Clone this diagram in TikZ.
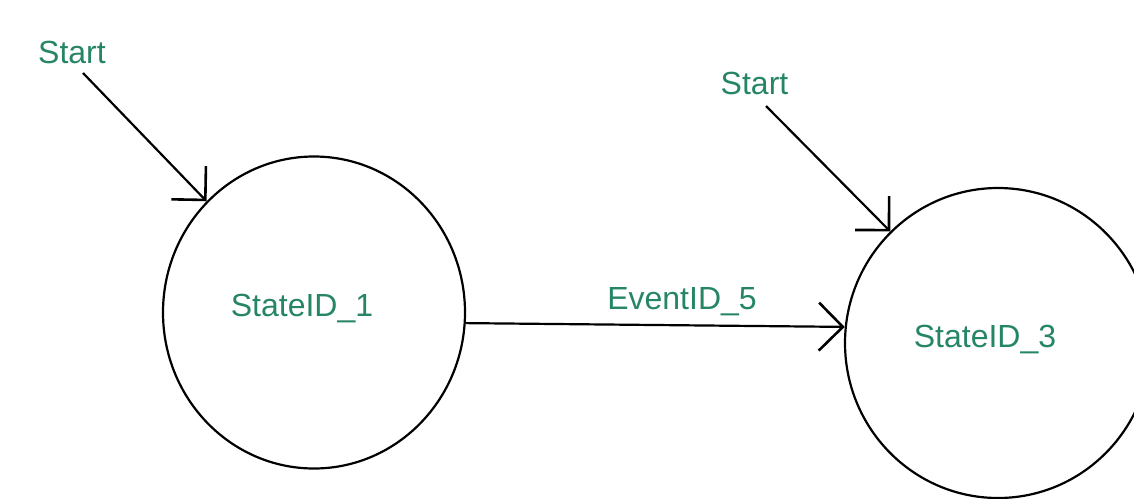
\documentclass[tikz,border=0pt]{standalone}
\usepackage{fontspec}
\setmainfont{Liberation Sans}
\usetikzlibrary{shapes.geometric,arrows.meta}
\definecolor{lblgreen}{RGB}{38,134,100}
\tikzset{
  statenode/.style={draw=black, line width=2.2pt, ellipse, inner sep=0pt},
  lbl/.style={text=lblgreen, font=\fontsize{32}{38}\selectfont, inner sep=0pt, anchor=base},
  conn/.style={draw=black, line width=2.2pt, -{Straight Barb[length=24pt, width=48pt, line width=2.6pt]}}
}
\begin{document}
\begin{tikzpicture}[x=1pt, y=-1pt]
\useasboundingbox (0,0) rectangle (1134,498);
\clip (0,0) rectangle (1134,498);
\node[statenode, minimum width=302pt, minimum height=312pt] (s1) at (314,312.5) {};
\node[statenode, minimum width=306pt, minimum height=310pt] (s2) at (998,343) {};
\node[lbl] (t1) at (302,316) {StateID\_1};
\node[lbl] (t3) at (985,347) {StateID\_3};
\node[lbl] (st1) at (72,63) {Start};
\node[lbl] (st2) at (754.5,94) {Start};
\node[lbl] (ev) at (682,309) {EventID\_5};
\coordinate (a1) at (83,73);
\coordinate (a2) at (766,106);
\draw[conn] (a1) -- (s1.134);
\draw[conn] (a2) -- (s2.134.5);
\draw[conn] (s1.-4) -- (s2.174.4);
\end{tikzpicture}
\end{document}
